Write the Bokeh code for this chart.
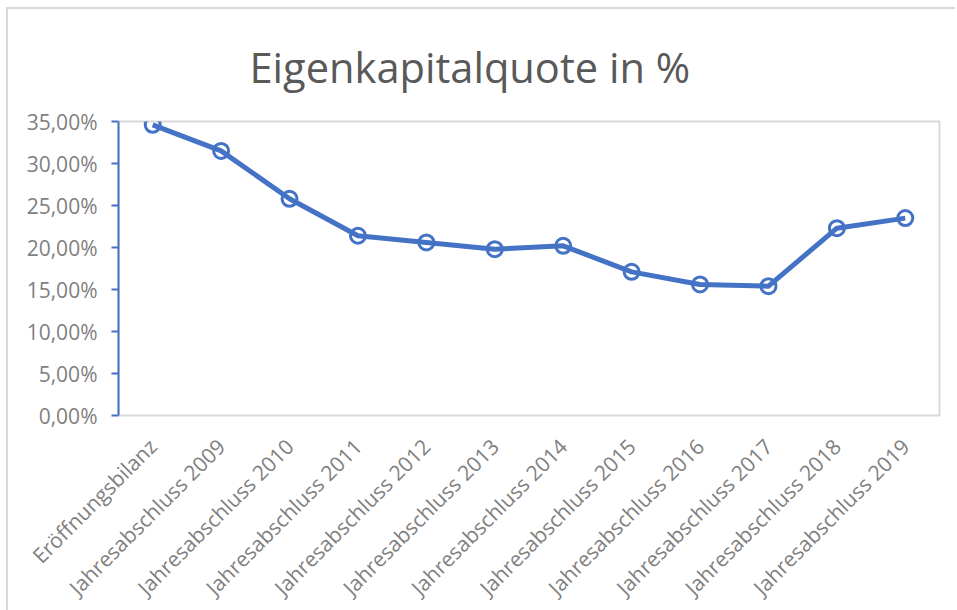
import math
from bokeh.plotting import figure
from bokeh.models import FactorRange, Range1d, ColumnDataSource
from bokeh.embed import file_html
from bokeh.resources import INLINE

# ---- data ----
categories = [
    "Eröffnungsbilanz",
    "Jahresabschluss 2009",
    "Jahresabschluss 2010",
    "Jahresabschluss 2011",
    "Jahresabschluss 2012",
    "Jahresabschluss 2013",
    "Jahresabschluss 2014",
    "Jahresabschluss 2015",
    "Jahresabschluss 2016",
    "Jahresabschluss 2017",
    "Jahresabschluss 2018",
    "Jahresabschluss 2019",
]
equity_ratio = [34.6, 31.5, 25.8, 21.4, 20.6, 19.8, 20.2, 17.1, 15.6, 15.4, 22.3, 23.5]
y_ticks = [0, 5, 10, 15, 20, 25, 30, 35]
y_tick_labels = ["0,00%", "5,00%", "10,00%", "15,00%", "20,00%", "25,00%", "30,00%", "35,00%"]
title_text = "Eigenkapitalquote in %"

BLUE = "#4472C4"
GRID = "#D9D9D9"
LABEL = "#808080"
FONT = "Open Sans"

src = ColumnDataSource(dict(cat=categories, val=equity_ratio))

p = figure(
    x_range=FactorRange(*categories, range_padding=0),
    y_range=Range1d(0, 35),
    frame_width=821, frame_height=294,
    output_backend="svg", toolbar_location=None,
    min_border_left=110, min_border_right=16,
    min_border_top=112, min_border_bottom=170,
)
p.styles = {
    "margin-left": "6px", "margin-top": "7px",
    "border-left": f"2px solid {GRID}", "border-top": f"2px solid {GRID}",
}

p.title.text = title_text
p.title.align = "left"
p.title.offset = 131
p.title.standoff = 50
p.title.vertical_align = "top"
p.title.text_font = FONT
p.title.text_font_size = "41.6px"
p.title.text_font_style = "normal"
p.title.text_color = "#595959"

p.outline_line_color = GRID
p.outline_line_width = 2
p.xgrid.visible = False
p.ygrid.visible = False

# y axis
ya = p.yaxis[0]
ya.ticker = y_ticks
ya.major_label_overrides = {t: l for t, l in zip(y_ticks, y_tick_labels)}
ya.axis_line_color = BLUE
ya.axis_line_width = 2
ya.major_tick_line_color = BLUE
ya.major_tick_line_width = 2
ya.major_tick_out = 7
ya.major_tick_in = 0
ya.minor_tick_line_color = None
ya.major_label_text_font = FONT
ya.major_label_text_font_size = "21px"
ya.major_label_text_color = LABEL
ya.major_label_standoff = 14

# x axis
xa = p.xaxis[0]
xa.axis_line_color = None
xa.major_tick_line_color = None
xa.minor_tick_line_color = None
xa.major_label_orientation = math.pi / 4
xa.major_label_text_font = FONT
xa.major_label_text_font_size = "21px"
xa.major_label_text_color = LABEL
xa.major_label_standoff = 21

p.line("cat", "val", source=src, line_color=BLUE, line_width=5, line_join="round")
p.scatter("cat", "val", source=src, marker="circle", size=15,
          line_color=BLUE, line_width=3, fill_color=None)

open("out.html", "w").write(file_html(p, INLINE))
